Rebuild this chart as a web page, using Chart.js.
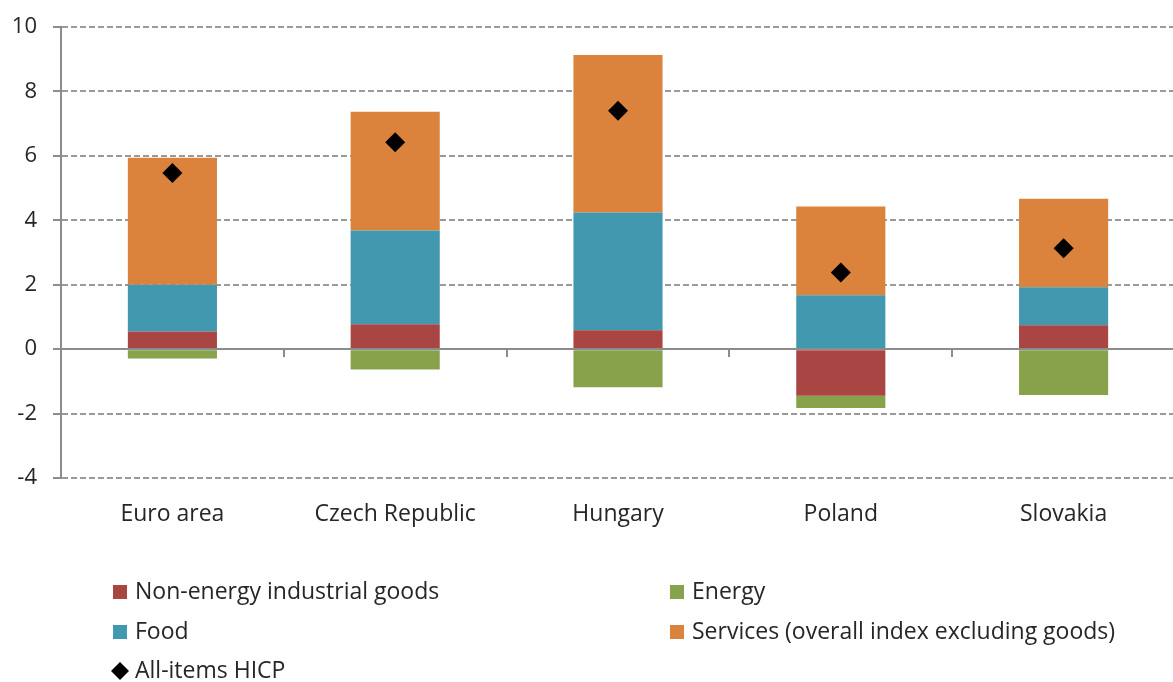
<!DOCTYPE html>
<html>
<head>
<meta charset="utf-8">
<script src="https://cdn.jsdelivr.net/npm/chart.js@4.4.0/dist/chart.umd.min.js"></script>
<style>
  html, body { margin: 0; padding: 0; background: #fff; overflow: hidden; }
  #wrap { width: 1185px; height: 682px; }
</style>
</head>
<body>
<div id="wrap"><canvas id="hicpChart" width="1185" height="682"></canvas></div>
<script>
// Contributions to HICP inflation (percentage points)
const countries = ['Euro area', 'Czech Republic', 'Hungary', 'Poland', 'Slovakia'];
const nonEnergyGoods = [0.55, 0.77, 0.59, -1.45, 0.74];
const energy = [-0.29, -0.63, -1.18, -0.38, -1.42];
const food = [1.45, 2.91, 3.65, 1.67, 1.18];
const services = [3.94, 3.69, 4.89, 2.76, 2.75];
const allItemsHicp = [5.47, 6.42, 7.40, 2.38, 3.13];
const yTicks = [-4, -2, 0, 2, 4, 6, 8, 10];

const FONT = '"Open Sans", Lato, sans-serif';

// zero line and category tick marks drawn over the bars
const zeroLinePlugin = {
    id: 'zeroLine',
    afterDatasetsDraw(chart) {
        const { ctx, chartArea, scales } = chart;
        const y0 = Math.round(scales.y.getPixelForValue(0));
        const n = countries.length;
        const step = (chartArea.right - chartArea.left) / n;
        ctx.save();
        ctx.strokeStyle = '#8c8c8c';
        ctx.lineWidth = 2;
        ctx.beginPath();
        ctx.moveTo(chartArea.left, y0);
        ctx.lineTo(chartArea.right, y0);
        for (let i = 1; i <= n; i++) {
            const x = Math.round(chartArea.left + i * step);
            ctx.moveTo(x, y0);
            ctx.lineTo(x, y0 + 8);
        }
        ctx.stroke();
        ctx.restore();
    }
};

// two-column legend under the chart
const legendPlugin = {
    id: 'gridLegend',
    afterDraw(chart) {
        const { ctx } = chart;
        const colX = [113, 670];
        const rowY = [592, 632, 671];
        ctx.save();
        ctx.font = '23px ' + FONT;
        ctx.textBaseline = 'middle';
        chart.data.datasets.forEach((ds, i) => {
            const x = colX[i % 2];
            const y = rowY[Math.floor(i / 2)];
            if (ds.type === 'line') {
                ctx.fillStyle = '#000';
                ctx.beginPath();
                ctx.moveTo(x + 7, y - 9);
                ctx.lineTo(x + 16, y);
                ctx.lineTo(x + 7, y + 9);
                ctx.lineTo(x - 2, y);
                ctx.closePath();
                ctx.fill();
            } else {
                ctx.fillStyle = ds.backgroundColor;
                ctx.fillRect(x, y - 7, 14, 14);
            }
            ctx.fillStyle = '#262626';
            ctx.fillText(ds.label, x + 22, y);
        });
        ctx.restore();
    }
};

const ctx = document.getElementById('hicpChart').getContext('2d');
const chart = new Chart(ctx, {
    data: {
        labels: countries,
        datasets: [
            { type: 'bar', label: 'Non-energy industrial goods', data: nonEnergyGoods, backgroundColor: '#a94543', order: 2 },
            { type: 'bar', label: 'Energy', data: energy, backgroundColor: '#88a24c', order: 2 },
            { type: 'bar', label: 'Food', data: food, backgroundColor: '#4198af', order: 2 },
            { type: 'bar', label: 'Services (overall index excluding goods)', data: services, backgroundColor: '#db823c', order: 2 },
            {
                type: 'line', label: 'All-items HICP', data: allItemsHicp, stack: 'hicp',
                showLine: false, pointStyle: 'rectRot', pointRadius: 10,
                backgroundColor: '#000', borderColor: '#000', borderWidth: 0, order: 1
            }
        ]
    },
    options: {
        responsive: false,
        animation: false,
        layout: { padding: { top: 24, right: 0, left: 0, bottom: 0 } },
        datasets: { bar: { barPercentage: 0.4, categoryPercentage: 1 } },
        plugins: {
            legend: { display: false },
            tooltip: { enabled: false }
        },
        scales: {
            x: {
                stacked: true,
                grid: { display: false },
                border: { display: false },
                ticks: { color: '#262626', font: { family: FONT, size: 23 }, padding: 15 },
                afterFit(scale) { scale.height = 682 - 478; }
            },
            y: {
                stacked: true,
                min: -4,
                max: 10,
                afterBuildTicks(scale) { scale.ticks = yTicks.map(v => ({ value: v })); },
                grid: { color: '#9a9a9a', lineWidth: 2, tickLength: 8, tickBorderDash: [], tickColor: '#8c8c8c' },
                border: { display: true, color: '#8c8c8c', width: 2, dash: [6, 3] },
                ticks: { color: '#262626', font: { family: FONT, size: 22, lineHeight: 1.0 }, padding: 16 },
                afterFit(scale) { scale.width = 61; }
            }
        }
    },
    plugins: [zeroLinePlugin, legendPlugin]
});
</script>
</body>
</html>
